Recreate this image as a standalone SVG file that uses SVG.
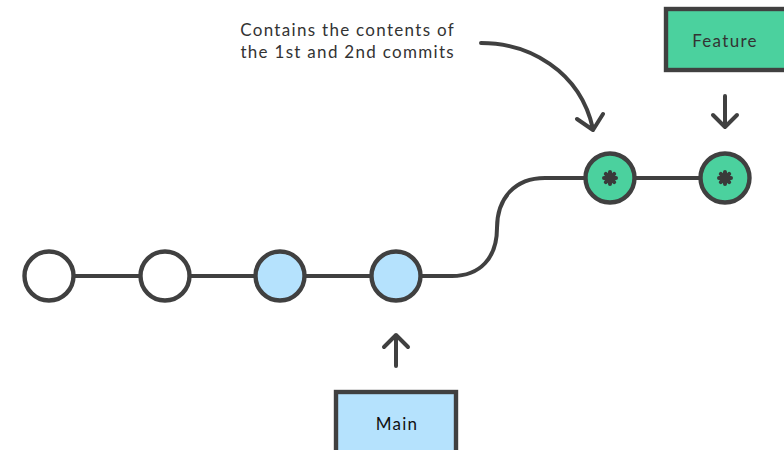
<svg xmlns="http://www.w3.org/2000/svg" width="784" height="450" viewBox="0 0 784 450">
<style>
.ln{fill:none;stroke:#404040;stroke-width:4;stroke-linecap:round;stroke-linejoin:round}
.c{stroke:#404040;stroke-width:4.4}
.w{fill:#ffffff}
.b{fill:#b5e2fd}
.g{fill:#4bd19e}
.t{font-family:"Lato","Noto Sans",sans-serif;font-size:17px;fill:#333333;letter-spacing:1.3px}
.star{stroke:#3a3a3a;stroke-width:4;stroke-linecap:round}
.sc{fill:#3a3a3a}
</style>
<rect width="784" height="450" fill="#ffffff"/>
<g id="connectors">
<path class="ln" d="M75 276 H139 M191 276 H254 M306 276 H370"/>
<path class="ln" d="M422 276 H452 C480 276 497 258 497 228 C497 198 515 178 545 178 H585"/>
<path class="ln" d="M636 178 H699"/>
<path class="ln" d="M481 43 C528 43 580 70 593 129 M577 119 L593 130 L603 114"/>
<path class="ln" d="M396 366 V335 M384 347 L396 335 L408 347"/>
<path class="ln" d="M725 96 V127 M713 115 L725 127 L737 115"/>
</g>
<g id="c1"><circle class="c w" cx="49" cy="276" r="24.5"/></g>
<g id="c2"><circle class="c w" cx="165" cy="276" r="24.5"/></g>
<g id="c3"><circle class="c b" cx="280" cy="276" r="24.5"/></g>
<g id="c4"><circle class="c b" cx="396" cy="276" r="24.5"/></g>
<g id="c5"><circle class="c g" cx="610" cy="178" r="24.5"/>
<circle class="sc" cx="610" cy="178" r="4.5"/>
<path class="star" d="M610 172 V184 M604 178 H616 M605.8 173.8 L614.2 182.2 M614.2 173.8 L605.8 182.2"/></g>
<g id="c6"><circle class="c g" cx="725" cy="178" r="24.5"/>
<circle class="sc" cx="725" cy="178" r="4.5"/>
<path class="star" d="M725 172 V184 M719 178 H731 M720.8 173.8 L729.2 182.2 M729.2 173.8 L720.8 182.2"/></g>
<g id="feature"><rect class="c g" x="666" y="9" width="130" height="61"/>
<text class="t" x="725" y="47" text-anchor="middle">Feature</text></g>
<g id="main"><rect class="c b" x="336" y="392" width="120" height="70"/>
<text class="t" x="397" y="430" text-anchor="middle" style="fill:#111">Main</text></g>
<g id="note">
<text class="t" x="455" y="36" text-anchor="end">Contains the contents of</text>
<text class="t" x="455" y="58" text-anchor="end">the 1st and 2nd commits</text>
</g>
</svg>
